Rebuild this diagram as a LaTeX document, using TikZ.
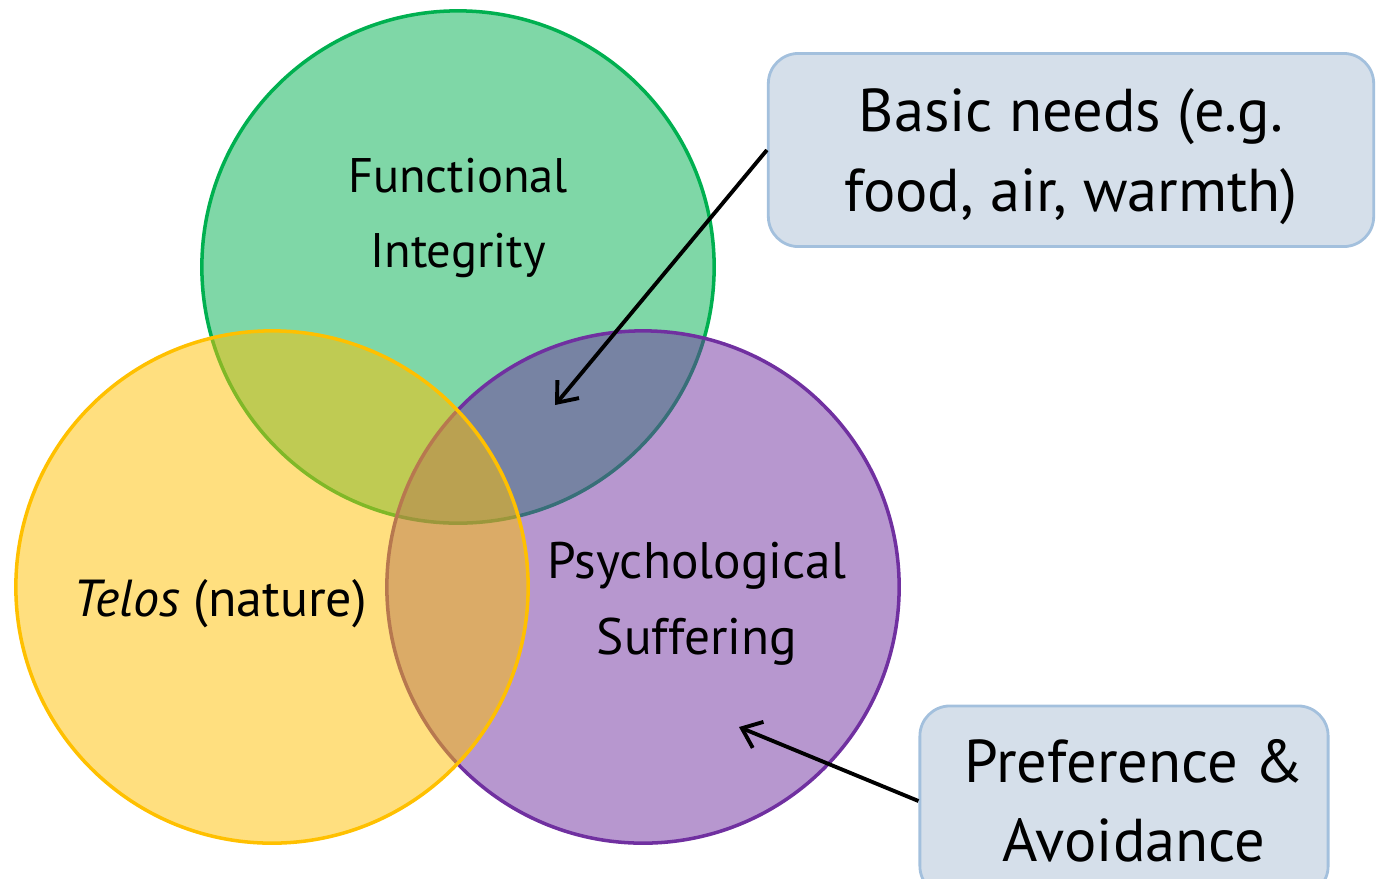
\documentclass[tikz,border=0pt]{standalone}
\usepackage{fontspec}
\setmainfont{PT Sans}
\usepackage{tikz}
\usetikzlibrary{arrows.meta}
\usetikzlibrary{positioning}
\definecolor{vgreen}{RGB}{0,176,80}
\definecolor{vpurple}{RGB}{112,48,160}
\definecolor{vyellow}{RGB}{255,192,0}
\definecolor{notefill}{RGB}{213,223,234}
\definecolor{notedraw}{RGB}{163,192,221}

\begin{document}
\begin{tikzpicture}[x=0.01cm, y=-0.01cm,
    venn/.style={circle, minimum size=5.12cm, inner sep=0pt, line width=1pt, draw=#1, fill=#1, fill opacity=0.5, draw opacity=1},
    vtext/.style={font=\fontsize{#1}{21.5}\selectfont, align=center},
    note/.style={rounded corners=0.3cm, draw=notedraw, line width=0.8pt, fill=notefill, font=\fontsize{17.2}{22.5}\selectfont, align=center},
    pointer/.style={-{Straight Barb[length=5pt, width=8pt]}, line width=1.1pt}]
    \clip (0, 0) rectangle (1376, 878);

    \node [venn=vgreen] (func) at (458, 267) {};
    \node [venn=vpurple] (psych) at (643, 587) {};
    \node [venn=vyellow] (telos) at (272, 587) {};

    \node [vtext=13.8] (functext) at (458, 218) {Functional\\Integrity};
    \node [vtext=14.8] (telostext) at (220, 604) {\textit{Telos} (nature)};
    \node [vtext=14.6] (psychtext) at (697, 604) {Psychological\\Suffering};

    \node [note, minimum width=6.05cm, minimum height=1.93cm, text depth=0pt] (needs) at (1071, 150) {Basic needs (e.g.\\food, air, warmth)};
    \node [note, minimum width=4.08cm, minimum height=1.9cm] (pref) at (1124, 801) {\hspace*{0.2cm}Preference \&\\\hspace*{0.2cm}Avoidance};

    \coordinate (needsend) at (555, 405);
    \coordinate (prefend) at (739, 727);
    \draw [pointer] (needs.west) -- (needsend);
    \draw [pointer] (pref.west) -- (prefend);
\end{tikzpicture}
\end{document}
